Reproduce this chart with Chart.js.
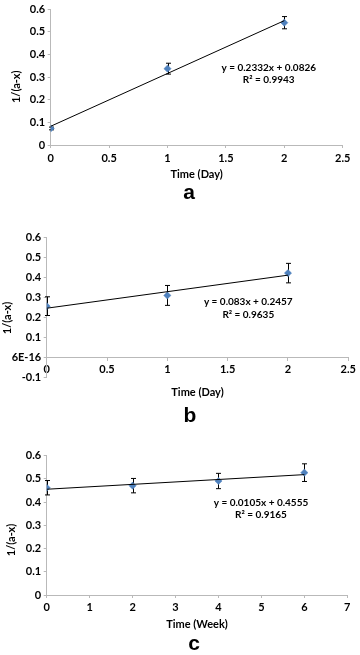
<!DOCTYPE html>
<html><head><meta charset="utf-8">
<script src="https://cdn.jsdelivr.net/npm/chart.js@4"></script>
<style>
html,body{margin:0;padding:0;background:#fff;width:360px;height:655px;overflow:hidden;}
.panel{position:absolute;left:0;width:360px;}
.letter{position:absolute;font-family:"Liberation Sans",Arial,sans-serif;font-weight:bold;font-size:21px;line-height:21px;width:30px;text-align:center;color:#000;}
</style></head><body>
<div class="panel" style="top:0;height:210px"><canvas id="ca"></canvas></div>
<div class="panel" style="top:210px;height:230px"><canvas id="cb"></canvas></div>
<div class="panel" style="top:440px;height:215px"><canvas id="cc"></canvas></div>
<div class="letter" style="left:174px;top:181px">a</div>
<div class="letter" style="left:175px;top:404px">b</div>
<div class="letter" style="left:179px;top:632px">c</div>
<script>
// ---- Panel a ----
const daysA = [0, 1, 2];
const valuesA = [0.073, 0.337, 0.540];
const errorsA = [0.006, 0.024, 0.027];
const trendXA = [0, 2];
const trendA = [0.0826, 0.5490];
const equationA = ['y = 0.2332x + 0.0826', 'R\u00B2 = 0.9943'];
const xTicksA = ['0', '0.5', '1', '1.5', '2', '2.5'];
const yTicksA = ['0', '0.1', '0.2', '0.3', '0.4', '0.5', '0.6'];

// ---- Panel b ----
const daysB = [0, 1, 2];
const valuesB = [0.256, 0.310, 0.422];
const errorsB = [0.047, 0.050, 0.049];
const trendXB = [0, 2];
const trendB = [0.2457, 0.4117];
const equationB = ['y = 0.083x + 0.2457', 'R\u00B2 = 0.9635'];
const xTicksB = ['0', '0.5', '1', '1.5', '2', '2.5'];
const yTicksB = ['-0.1', '6E-16', '0.1', '0.2', '0.3', '0.4', '0.5', '0.6'];

// ---- Panel c ----
const weeksC = [0, 2, 4, 6];
const valuesC = [0.462, 0.471, 0.491, 0.527];
const errorsC = [0.031, 0.031, 0.033, 0.038];
const trendXC = [0, 6];
const trendC = [0.4555, 0.5185];
const equationC = ['y = 0.0105x + 0.4555', 'R\u00B2 = 0.9165'];
const xTicksC = ['0', '1', '2', '3', '4', '5', '6', '7'];
const yTicksC = ['0', '0.1', '0.2', '0.3', '0.4', '0.5', '0.6'];

const yAxisTitle = '1/(a-x)';

const FONT = 'Lato';
const AXIS_GRAY = '#b9b9b9';
const BLUE = '#4f81bd';

function makeChart(id, p) {
  const xVals = p.xTicks.map(Number);
  const yVals = p.yTicks.map(Number);
  const errPlugin = {
    id: 'errBars' + id,
    beforeDatasetsDraw(chart) {
      const {ctx, scales: {x, y}} = chart;
      ctx.save();
      ctx.strokeStyle = '#000';
      ctx.lineWidth = 1;
      p.xs.forEach((xv, i) => {
        const px = Math.round(x.getPixelForValue(xv)) + 0.5;
        const t = y.getPixelForValue(p.ys[i] + p.errs[i]);
        const b = y.getPixelForValue(p.ys[i] - p.errs[i]);
        ctx.beginPath();
        ctx.moveTo(px, t); ctx.lineTo(px, b);
        ctx.moveTo(px - 2.5, t); ctx.lineTo(px + 2.5, t);
        ctx.moveTo(px - 2.5, b); ctx.lineTo(px + 2.5, b);
        ctx.stroke();
      });
      ctx.restore();
    }
  };
  const textPlugin = {
    id: 'txt' + id,
    afterDraw(chart) {
      const {ctx, scales: {x, y}, chartArea} = chart;
      const cx = x.getPixelForValue(p.eqAt[0]);
      const cy = y.getPixelForValue(p.eqAt[1]);
      ctx.save();
      ctx.fillStyle = '#000';
      ctx.font = 'bold 10px ' + FONT;
      ctx.textAlign = 'center';
      ctx.textBaseline = 'middle';
      p.eq.forEach((line, i) => ctx.fillText(line, cx, cy + i * 12.5));
      // y axis title, rotated
      ctx.font = 'bold 11px ' + FONT;
      ctx.translate(p.yTitleX, (chartArea.top + chartArea.bottom) / 2 + p.yTitleShift);
      ctx.rotate(-Math.PI / 2);
      ctx.fillText(yAxisTitle, 0, 0);
      ctx.restore();
    }
  };
  const tickFont = {family: FONT, weight: 'bold', size: 11};
  return new Chart(document.getElementById(id), {
    type: 'scatter',
    data: {
      datasets: [
        {
          type: 'line',
          data: p.trendX.map((xv, i) => ({x: xv, y: p.trend[i]})),
          borderColor: '#000', borderWidth: 1, pointRadius: 0, fill: false, tension: 0
        },
        {
          data: p.xs.map((xv, i) => ({x: xv, y: p.ys[i]})),
          pointStyle: 'rectRot', pointRadius: 3.6, pointBorderWidth: 0.5,
          backgroundColor: BLUE, borderColor: BLUE
        }
      ]
    },
    options: {
      responsive: true, maintainAspectRatio: false, animation: false,
      layout: {padding: p.pad},
      plugins: {legend: {display: false}, tooltip: {enabled: false}},
      scales: {
        x: {
          type: 'linear', position: p.xPos, min: xVals[0], max: xVals[xVals.length - 1],
          afterBuildTicks: s => { s.ticks = xVals.map(v => ({value: v})); },
          afterFit: s => { s.height = p.xH; },
          ticks: {callback: (v, i) => p.xTicks[i], color: '#000', font: tickFont, padding: p.xPad, maxRotation: 0, autoSkip: false},
          grid: {drawOnChartArea: false, tickLength: 3, color: AXIS_GRAY},
          border: {color: AXIS_GRAY},
          title: {display: true, text: p.xTitle, color: '#000', font: {family: FONT, weight: 'bold', size: 11}, padding: {top: 0, bottom: 0}}
        },
        y: {
          type: 'linear', min: yVals[0], max: yVals[yVals.length - 1],
          afterBuildTicks: s => { s.ticks = yVals.map(v => ({value: v})); },
          afterFit: s => { s.width = p.yW; },
          ticks: {callback: (v, i) => p.yTicks[i], color: '#000', font: tickFont, padding: 2.5, autoSkip: false},
          grid: {drawOnChartArea: false, tickLength: 3, color: AXIS_GRAY},
          border: {color: AXIS_GRAY},
          title: {display: false}
        }
      }
    },
    plugins: [errPlugin, textPlugin]
  });
}

makeChart('ca', {
  xs: daysA, ys: valuesA, errs: errorsA, trendX: trendXA, trend: trendA,
  eq: equationA, eqAt: [1.867, 0.343], xTicks: xTicksA, yTicks: yTicksA,
  xTitle: 'Time (Day)', xPos: 'bottom',
  pad: {left: 0, top: 7, right: 17.3, bottom: 29.4}, yW: 50.7, xH: 35.6, xPad: 3.4,
  yTitleX: 16, yTitleShift: 9.7
});
makeChart('cb', {
  xs: daysB, ys: valuesB, errs: errorsB, trendX: trendXB, trend: trendB,
  eq: equationB, eqAt: [1.671, 0.276], xTicks: xTicksB, yTicks: yTicksB,
  xTitle: 'Time (Day)', xPos: {y: 0},
  pad: {left: 0, top: 27.7, right: 11.7, bottom: 63}, yW: 46.7, xH: 41.9, xPad: 2.4,
  yTitleX: 7, yTitleShift: 10.6
});
makeChart('cc', {
  xs: weeksC, ys: valuesC, errs: errorsC, trendX: trendXC, trend: trendC,
  eq: equationC, eqAt: [4.99, 0.398], xTicks: xTicksC, yTicks: yTicksC,
  xTitle: 'Time (Week)', xPos: 'bottom',
  pad: {left: 0, top: 15.7, right: 12.7, bottom: 24.4}, yW: 46.7, xH: 35.6, xPad: 2.4,
  yTitleX: 11, yTitleShift: 14.6
});
</script>
</body></html>
